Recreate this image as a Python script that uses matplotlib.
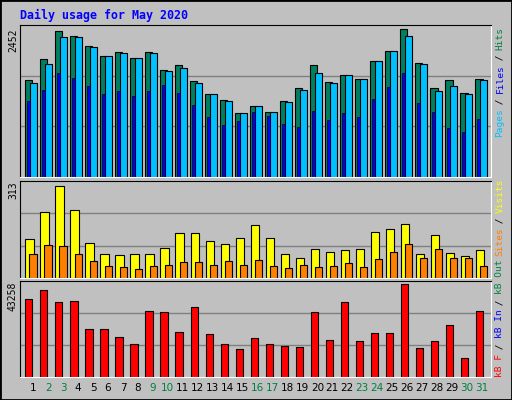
import matplotlib.pyplot as plt
import numpy as np
from matplotlib.patches import Rectangle

days = list(range(1, 32))
weekend_days = [2, 3, 9, 10, 16, 17, 23, 24, 30, 31]

hits = [1557, 1897, 2350, 2269, 2107, 1945, 2010, 1913, 2010, 1719, 1800, 1547, 1331, 1250, 1040,
        1153, 1056, 1218, 1428, 1800, 1525, 1638, 1574, 1865, 2026, 2382, 1832, 1428, 1557, 1363, 1574]
files = [1509, 1816, 2253, 2253, 2091, 1945, 1994, 1913, 1994, 1703, 1751, 1509, 1331, 1218, 1040,
         1153, 1056, 1202, 1396, 1671, 1509, 1638, 1574, 1865, 2026, 2269, 1816, 1380, 1460, 1331, 1557]
pages = [1218, 1396, 1671, 1590, 1460, 1331, 1380, 1299, 1380, 1477, 1347, 1169, 975, 846, 911,
         1056, 992, 862, 814, 1072, 927, 1040, 975, 1266, 1444, 1671, 1186, 1056, 798, 733, 943]
visits = [126, 212, 297, 218, 114, 76, 73, 76, 76, 98, 145, 145, 120, 111, 130,
          171, 130, 79, 63, 92, 85, 89, 95, 149, 158, 174, 79, 139, 82, 70, 89]
sites = [79, 108, 104, 76, 54, 38, 35, 28, 38, 41, 51, 51, 41, 54, 41,
         57, 38, 32, 41, 35, 38, 47, 35, 60, 85, 111, 63, 95, 63, 63, 38]
kbytes = [35334, 38989, 33963, 34420, 21627, 21627, 17971, 14773, 29851, 29394, 20256, 31678, 19342,
          14773, 12489, 17515, 14773, 13859, 13402, 29394, 16601, 33963, 16144, 19799, 19799, 41730,
          12946, 16144, 23454, 8377, 29851]
max_hits, max_visits, max_kb = 2452, 313, 43258

W, H = 512, 400
fig = plt.figure(figsize=(W / 100, H / 100), dpi=100)
fig.patch.set_facecolor("#C0C0C0")
fig.patches.append(Rectangle((0, 0), 1, 1, transform=fig.transFigure, fill=False,
                             edgecolor="black", linewidth=2))
mono = "DejaVu Sans Mono"
x = np.array(days, dtype=float)


def panel(top, bottom, ymax):
    ax = fig.add_axes([20 / W, (H - bottom) / H, 471 / W, (bottom - top) / H])
    ax.set_facecolor("#C0C0C0")
    ax.set_xlim(0.113, 31.5)
    ax.set_ylim(0, ymax)
    ax.set_xticks([])
    ax.set_yticks([])
    for y in (ymax / 3, 2 * ymax / 3):
        ax.axhline(y, color="#808080", linewidth=1, zorder=0)
    for s in ("top", "left"):
        ax.spines[s].set_color("black")
    for s in ("bottom", "right"):
        ax.spines[s].set_color("white")
    return ax


kw = dict(edgecolor="black", linewidth=0.8)
ax1 = panel(25, 177, max_hits)
ax1.bar(x - 0.3, hits, 0.47, color="#008060", **kw)
ax1.bar(x - 0.01, files, 0.47, color="#00C0FF", **kw)
ax1.bar(x - 0.34, pages, 0.2, color="#0000FF", edgecolor="black", linewidth=0.5)

ax2 = panel(181, 278, max_visits)
ax2.bar(x - 0.25, visits, 0.55, color="#FFFF00", **kw)
ax2.bar(x - 0.02, sites, 0.47, color="#FF8000", **kw)

ax3 = panel(281, 377, max_kb)
ax3.bar(x - 0.29, kbytes, 0.47, color="#FF0000", **kw)

fig.text(20 / W, 1 - 15 / H, "Daily usage for May 2020", color="#0000FF", family=mono,
         fontweight="bold", fontsize=8.4, va="center")

for d in days:
    px = 33.3 + 14.95 * (d - 1)
    fig.text(px / W, 1 - 388 / H, str(d), ha="center", va="center", fontsize=7.5,
             color="#008040" if d in weekend_days else "black")

for label, ytop in (("2452", 28), ("313", 181), ("43258", 282)):
    fig.text(13 / W, 1 - ytop / H, label, rotation=90, ha="center", va="top",
             family=mono, fontsize=7)


def side_label(pieces, ystart, pitch=5.6):
    pos = 0
    for txt, col in pieces:
        fig.text(500 / W, 1 - (ystart - pos * pitch) / H, txt, rotation=90, ha="center",
                 va="bottom", family=mono, fontsize=6.8, color=col)
        pos += len(txt)


side_label([("Pages", "#00C0FF"), (" / ", "black"), ("Files", "#0000FF"),
            (" / ", "black"), ("Hits", "#008040")], 137, 5.45)
side_label([("Sites", "#FF8000"), (" / ", "black"), ("Visits", "#FFFF00")], 256, 5.4)
side_label([("kB F", "#FF0000"), (" / ", "black"), ("kB In", "#0000FF"),
            (" / ", "black"), ("kB Out", "#008040")], 377, 5.5)

fig.savefig("out.png", dpi=100, facecolor=fig.get_facecolor())
